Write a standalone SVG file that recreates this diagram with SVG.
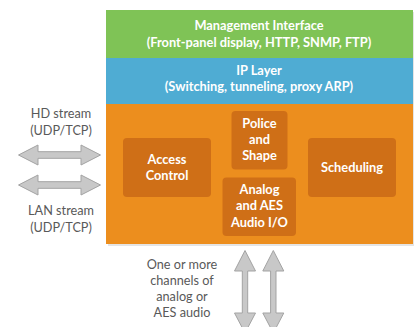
<svg xmlns="http://www.w3.org/2000/svg" width="414" height="327" viewBox="0 0 414 327">
<defs>
<style>
.band{stroke:none}
.box{fill:#cf6f17}
.w{fill:#ffffff;font-family:Lato,"Liberation Sans",sans-serif;font-weight:bold;font-size:12.8px;text-anchor:middle}
.g{fill:#595959;font-family:Lato,"Liberation Sans",sans-serif;font-size:12.7px;text-anchor:middle}
.arr{fill:#c8c8c8;stroke:#a3a3a3;stroke-width:1;stroke-linejoin:miter}
</style>
</defs>
<rect width="414" height="327" fill="#ffffff"/>
<rect x="108" y="12" width="306" height="234" fill="#e4e4e4"/>
<g id="management">
<rect class="band" x="106" y="10" width="307" height="48" fill="#7fc356"/>
<text class="w" x="259" y="29.5">Management Interface</text>
<text class="w" x="259" y="46.5">(Front-panel display, HTTP, SNMP, FTP)</text>
</g>
<g id="iplayer">
<rect class="band" x="106" y="58" width="307" height="46" fill="#4facd3"/>
<text class="w" x="259" y="75">IP Layer</text>
<text class="w" x="259" y="91">(Switching, tunneling, proxy ARP)</text>
</g>
<g id="core">
<rect class="band" x="106" y="104" width="307" height="140" fill="#ec8e1e"/>
</g>
<g id="access">
<rect class="box" x="123" y="138" width="88" height="59" rx="4"/>
<text class="w" x="167" y="164">Access</text>
<text class="w" x="167" y="179.5">Control</text>
</g>
<g id="police">
<rect class="box" x="231.5" y="111" width="56" height="58.5" rx="4"/>
<text class="w" x="259.5" y="127.5">Police</text>
<text class="w" x="259.5" y="143.5">and</text>
<text class="w" x="259.5" y="160">Shape</text>
</g>
<g id="analog">
<rect class="box" x="222.5" y="177.5" width="73.5" height="58.5" rx="4"/>
<text class="w" x="259.5" y="194">Analog</text>
<text class="w" x="259.5" y="210">and AES</text>
<text class="w" x="259.5" y="226.5">Audio I/O</text>
</g>
<g id="scheduling">
<rect class="box" x="308" y="138" width="88" height="59" rx="4"/>
<text class="w" x="352" y="171.5">Scheduling</text>
</g>
<g id="labels">
<text class="g" x="61" y="118">HD stream</text>
<text class="g" x="61" y="135">(UDP/TCP)</text>
<text class="g" x="61" y="215">LAN stream</text>
<text class="g" x="61" y="231.5">(UDP/TCP)</text>
<text class="g" x="182" y="268.5">One or more</text>
<text class="g" x="182" y="285">channels of</text>
<text class="g" x="182" y="300.5">analog or</text>
<text class="g" x="182" y="317">AES audio</text>
</g>
<g id="connectors">
<path class="arr" d="M18.5,155 L38,145 L38,151.7 L81,151.7 L81,145 L100.5,155 L81,165 L81,158.3 L38,158.3 L38,165 Z"/>
<path class="arr" d="M18.5,185 L38,175 L38,181.7 L81,181.7 L81,175 L100.5,185 L81,195 L81,188.3 L38,188.3 L38,195 Z"/>
<path class="arr" d="M245,250.5 L255.5,271 L247.7,271 L247.7,313 L255.5,313 L245,333 L234.5,313 L242.3,313 L242.3,271 L234.5,271 Z"/>
<path class="arr" d="M273.3,250.5 L283.8,271 L276,271 L276,313 L283.8,313 L273.3,333 L262.8,313 L270.6,313 L270.6,271 L262.8,271 Z"/>
</g>
</svg>
